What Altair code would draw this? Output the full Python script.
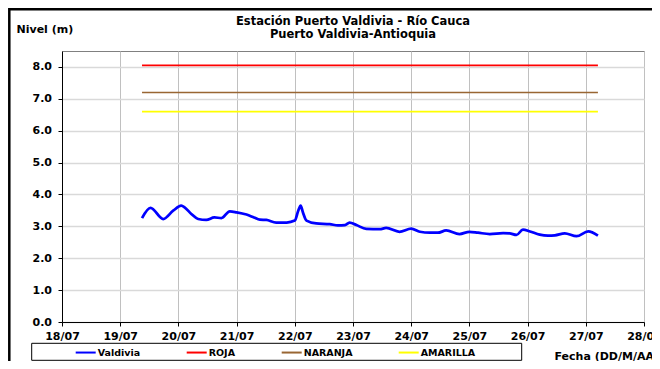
import altair as alt
import pandas as pd

# ---- data ----
times = [
    "2018-07-19T09:00", "2018-07-19T12:30", "2018-07-19T17:45", "2018-07-19T21:50",
    "2018-07-20T01:10", "2018-07-20T02:40", "2018-07-20T05:20", "2018-07-20T08:10",
    "2018-07-20T11:30", "2018-07-20T14:50", "2018-07-20T17:45", "2018-07-20T21:10",
    "2018-07-21T00:00", "2018-07-21T04:05", "2018-07-21T07:10", "2018-07-21T09:35",
    "2018-07-21T12:15", "2018-07-21T16:20", "2018-07-21T20:40", "2018-07-22T00:00",
    "2018-07-22T01:25", "2018-07-22T02:25", "2018-07-22T03:20", "2018-07-22T04:50",
    "2018-07-22T08:50", "2018-07-22T14:25", "2018-07-22T17:45", "2018-07-22T20:40",
    "2018-07-22T22:35", "2018-07-23T01:25", "2018-07-23T05:30", "2018-07-23T11:00",
    "2018-07-23T13:40", "2018-07-23T19:10", "2018-07-24T00:00", "2018-07-24T03:35",
    "2018-07-24T07:40", "2018-07-24T11:00", "2018-07-24T14:25", "2018-07-24T19:55",
    "2018-07-25T00:00", "2018-07-25T03:35", "2018-07-25T08:25", "2018-07-25T13:55",
    "2018-07-25T16:35", "2018-07-25T19:25", "2018-07-25T22:05", "2018-07-26T01:00",
    "2018-07-26T05:00", "2018-07-26T08:25", "2018-07-26T11:15", "2018-07-26T15:20",
    "2018-07-26T20:10", "2018-07-27T01:00", "2018-07-27T05:00",
]
levels = [
    3.26, 3.58, 3.23, 3.49,
    3.65, 3.59, 3.39, 3.23,
    3.20, 3.28, 3.26, 3.47,
    3.44, 3.37, 3.28, 3.21,
    3.20, 3.12, 3.12, 3.18,
    3.49, 3.65, 3.44, 3.18,
    3.09, 3.07, 3.03, 3.04,
    3.12, 3.04, 2.92, 2.91,
    2.95, 2.83, 2.93, 2.83,
    2.80, 2.80, 2.87, 2.76,
    2.83, 2.80, 2.76, 2.79,
    2.78, 2.73, 2.90, 2.84,
    2.74, 2.71, 2.72, 2.78,
    2.69, 2.84, 2.71,
]
alert_names = ["ROJA", "NARANJA", "AMARILLA"]
alert_levels = [8.05, 7.20, 6.60]
alert_start = "2018-07-19T09:00"
alert_end = "2018-07-27T05:00"

series_names = ["Valdivia", "ROJA", "NARANJA", "AMARILLA"]
series_colors = ["#0000FF", "#FF0000", "#996633", "#FFFF00"]

day_ticks = ["2018-07-18", "2018-07-19", "2018-07-20", "2018-07-21", "2018-07-22",
             "2018-07-23", "2018-07-24", "2018-07-25", "2018-07-26", "2018-07-27",
             "2018-07-28"]
level_ticks = [0, 1, 2, 3, 4, 5, 6, 7, 8]

title_lines = ["Estación Puerto Valdivia - Río Cauca", "Puerto Valdivia-Antioquia"]

# ---- build tables ----
df_station = pd.DataFrame({"time": times, "nivel": levels, "series": ["Valdivia"] * len(times)})
alert_rows = []
for name, lv in zip(alert_names, alert_levels):
    alert_rows.append({"time": alert_start, "nivel": lv, "series": name})
    alert_rows.append({"time": alert_end, "nivel": lv, "series": name})
df_alerts = pd.DataFrame(alert_rows)


def dt(s):
    y, m, d = [int(p) for p in s.split("-")]
    return alt.DateTime(year=y, month=m, date=d)


tick_dates = [dt(s) for s in day_ticks]
FONT = "DejaVu Sans"

x_enc = alt.X(
    "time:T",
    scale=alt.Scale(domain=[tick_dates[0], tick_dates[-1]]),
    axis=alt.Axis(
        values=tick_dates, format="%d/%m", labelFlush=False, labelOverlap=False,
        labelBaseline="alphabetic", labelPadding=13.5,
        title="Fecha (DD/M/AAAA)", titleAlign="left", titleBaseline="alphabetic",
        titleX=492, titleY=37, gridColor="#c0c0c0", gridWidth=1,
    ),
)
y_enc = alt.Y(
    "nivel:Q",
    scale=alt.Scale(domain=[0, 8.5], nice=False),
    axis=alt.Axis(
        values=level_ticks, format=".1f", labelPadding=6.5,
        title="Nivel (m)", titleAngle=0, titleAlign="left", titleBaseline="alphabetic",
        titleX=-46, titleY=-18.5, gridColor="#d9d9d9", gridWidth=1.5,
    ),
)
color_enc = alt.Color("series:N", scale=alt.Scale(domain=series_names, range=series_colors), title=" ")

alerts = alt.Chart(df_alerts).mark_line(strokeWidth=1.6).encode(x=x_enc, y=y_enc, color=color_enc)
station = alt.Chart(df_station).mark_line(interpolate="monotone", strokeWidth=2.75).encode(
    x=x_enc, y=y_enc, color=color_enc
)

frame = alt.Chart(pd.DataFrame({"k": [0]})).mark_rect(
    fill="transparent", stroke="black", strokeWidth=2.5
).encode(
    x=alt.value(-52.7), x2=alt.value(720), y=alt.value(-41.7), y2=alt.value(420)
)
legend_box = alt.Chart(pd.DataFrame({"k": [0]})).mark_rect(
    fill="transparent", stroke="black", strokeWidth=1
).encode(
    x=alt.value(-30.3), x2=alt.value(459.7), y=alt.value(292.3), y2=alt.value(309.3)
)

chart = alt.layer(frame, legend_box, alerts, station).properties(
    width=582,
    height=271,
    title=alt.TitleParams(
        text=title_lines, anchor="middle", font=FONT, fontSize=11.5, fontWeight="bold",
        lineHeight=13, offset=-32, color="black",
    ),
    autosize=alt.AutoSizeParams(type="none"),
    padding={"left": 54, "top": 43, "right": 8, "bottom": 39},
).configure(
    background="white",
).configure_view(
    stroke="#808080", strokeWidth=1,
).configure_axis(
    labelFont=FONT, labelFontSize=11, labelFontWeight="bold", labelColor="black",
    titleFont=FONT, titleFontSize=11, titleFontWeight="bold", titleColor="black",
    domainColor="black", domainWidth=1, tickColor="black", tickSize=4, tickWidth=1,
).configure_legend(
    orient="none", legendX=-30.3, legendY=293.3, direction="horizontal", columns=4,
    symbolType="M-2,0H2", symbolSize=100, symbolStrokeWidth=2, labelOffset=6, columnPadding=42,
    labelFont=FONT, labelFontSize=9.5, labelFontWeight="bold", labelColor="black",
    titleOrient="left", titlePadding=46, titleFontSize=9.5, titleFont=FONT,
    padding=2,
)

chart.save("out.html", embed_options={"renderer": "svg", "actions": False})
